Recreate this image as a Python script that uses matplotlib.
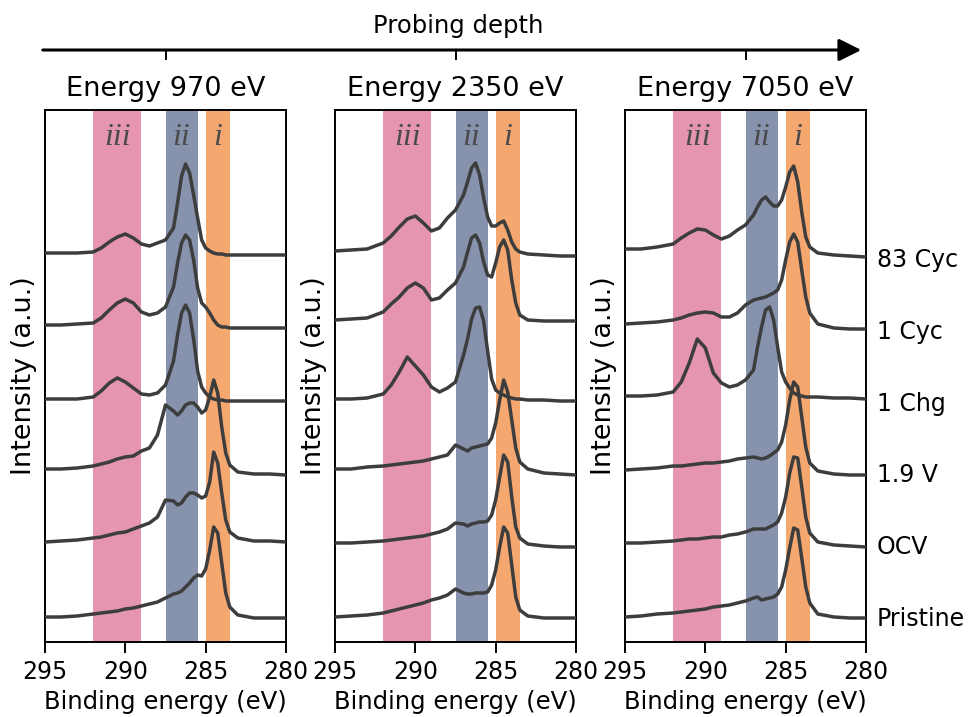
import numpy as np
import matplotlib
matplotlib.use("Agg")
import matplotlib.pyplot as plt
from matplotlib.lines import Line2D
from matplotlib.patches import FancyArrowPatch

# ---------------- data ----------------
binding_energy = [295, 294, 293, 292, 291.5, 291, 290.5, 290, 289.5, 289, 288.5, 288,
                  287.5, 287, 286.75, 286.5, 286.25, 286, 285.75, 285.5, 285.25, 285,
                  284.75, 284.5, 284.25, 284, 283.75, 283.5, 283, 282, 281, 280]

samples = ["Pristine", "OCV", "1.9 V", "1 Chg", "1 Cyc", "83 Cyc"]
offsets = [0, 72, 144, 216, 288, 360]
panel_titles = ["Energy 970 eV", "Energy 2350 eV", "Energy 7050 eV"]

region_names = ["iii", "ii", "i"]
region_bounds = [(292.0, 289.0), (287.5, 285.5), (285.0, 283.5)]
region_colors = ["#E596AE", "#8792AD", "#F4A870"]

# 970 eV
e970_pristine = [0, 0, 1, 3, 4, 5, 6, 8, 9, 11, 13, 15, 19, 23, 24, 26, 30, 34, 39, 42, 41, 48, 67, 90, 84, 54, 24, 10, 2, -1, -1, -1]
e970_ocv      = [3, 4, 5, 7, 8, 10, 12, 13, 16, 19, 22, 28, 45, 44, 40, 42, 48, 52, 52, 50, 47, 49, 63, 93, 82, 52, 25, 13, 7, 4, 4, 3]
e970_19v      = [4, 4, 5, 7, 9, 11, 14, 16, 17, 22, 25, 38, 68, 62, 58, 62, 68, 70, 70, 66, 60, 63, 76, 93, 80, 46, 20, 8, 1, -1, -1, -2]
e970_1chg     = [2, 2, 2, 4, 10, 18, 23, 19, 13, 7, 6, 8, 16, 40, 66, 88, 96, 88, 62, 30, 14, 8, 4, 2, 1, 1, 0, 0, 0, 0, 0, 0]
e970_1cyc     = [4, 4, 5, 6, 11, 19, 26, 30, 26, 17, 14, 16, 22, 42, 66, 86, 94, 89, 69, 41, 26, 22, 16, 9, 4, 2, 2, 1, 1, 1, 1, 1]
e970_83cyc    = [4, 4, 4, 5, 9, 15, 20, 23, 19, 13, 11, 14, 17, 29, 54, 81, 93, 84, 62, 39, 17, 9, 6, 4, 3, 3, 2, 2, 2, 2, 2, 2]

# 2350 eV
e2350_pristine = [0, 1, 2, 4, 6, 8, 10, 12, 14, 17, 19, 22, 28, 24, 23, 23, 24, 24, 24, 25, 32, 47, 70, 90, 84, 52, 20, 7, 1, -1, -1, -1]
e2350_ocv      = [2, 2, 3, 4, 5, 6, 7, 8, 9, 11, 13, 16, 22, 21, 19, 21, 22, 23, 23, 24, 30, 45, 68, 90, 83, 48, 18, 7, 1, -1, -2, -2]
e2350_19v      = [4, 4, 6, 7, 8, 9, 10, 11, 12, 14, 16, 18, 28, 24, 22, 25, 26, 27, 28, 29, 35, 50, 73, 93, 81, 53, 25, 11, 4, 0, -1, -2]
e2350_1chg     = [2, 2, 3, 7, 16, 29, 44, 35, 26, 14, 9, 13, 19, 46, 62, 82, 93, 94, 80, 50, 22, 11, 8, 6, 4, 3, 2, 2, 1, 1, 0, 0]
e2350_1cyc     = [9, 10, 11, 17, 25, 32, 41, 46, 41, 29, 31, 39, 46, 62, 77, 91, 94, 86, 67, 54, 52, 66, 82, 89, 79, 49, 26, 14, 9, 8, 8, 8]
e2350_83cyc    = [6, 7, 8, 14, 21, 30, 38, 41, 34, 26, 29, 39, 47, 62, 75, 89, 94, 82, 59, 40, 31, 31, 34, 36, 27, 15, 8, 5, 3, 2, 1, 1]

# 7050 eV
e7050_pristine = [0, 1, 3, 4, 5, 6, 7, 8, 10, 11, 12, 14, 16, 19, 20, 17, 18, 19, 20, 23, 30, 47, 69, 89, 87, 59, 30, 14, 3, 0, -1, -1]
e7050_ocv      = [2, 2, 3, 4, 5, 6, 6, 7, 8, 8, 10, 11, 13, 16, 16, 16, 16, 18, 20, 23, 32, 48, 72, 88, 87, 58, 28, 12, 3, 0, -1, -2]
e7050_19v      = [3, 4, 5, 7, 7, 8, 9, 10, 10, 11, 12, 14, 15, 16, 15, 14, 15, 17, 20, 23, 31, 48, 73, 91, 86, 56, 26, 10, 2, -1, -2, -2]
e7050_1chg     = [5, 5, 6, 9, 19, 38, 62, 53, 28, 18, 14, 16, 21, 31, 54, 74, 91, 94, 81, 54, 29, 19, 13, 8, 6, 5, 4, 4, 4, 3, 3, 2]
e7050_1cyc     = [5, 6, 7, 9, 11, 14, 16, 17, 16, 12, 12, 16, 24, 29, 30, 31, 32, 34, 36, 39, 49, 69, 87, 95, 87, 59, 32, 16, 5, 1, 0, 0]
e7050_83cyc    = [8, 8, 10, 13, 19, 24, 28, 27, 22, 18, 21, 27, 32, 42, 50, 57, 60, 55, 51, 51, 57, 70, 85, 91, 75, 45, 20, 10, 4, 2, 1, 0]

panel_spectra = [
    [e970_pristine, e970_ocv, e970_19v, e970_1chg, e970_1cyc, e970_83cyc],
    [e2350_pristine, e2350_ocv, e2350_19v, e2350_1chg, e2350_1cyc, e2350_83cyc],
    [e7050_pristine, e7050_ocv, e7050_19v, e7050_1chg, e7050_1cyc, e7050_83cyc],
]

# ---------------- figure ----------------
W, H = 968, 717
fig = plt.figure(figsize=(W / 100, H / 100), dpi=100)

ax_left_px = [45, 335, 625]
ax_w_px = 241
ax_top_px, ax_bot_px = 110, 642

line_color = "#3d3d3d"
x = np.array(binding_energy)

for p in range(3):
    ax = fig.add_axes([ax_left_px[p] / W, 1 - ax_bot_px / H,
                       ax_w_px / W, (ax_bot_px - ax_top_px) / H])
    for (hi, lo), col in zip(region_bounds, region_colors):
        ax.axvspan(hi, lo, color=col, lw=0, zorder=0)
    for name, (hi, lo) in zip(region_names, region_bounds):
        ax.text((hi + lo) / 2, 472, name, ha="center", va="baseline",
                family="Liberation Serif", style="italic", fontsize=23,
                color="#4a4a4a", zorder=1)
    for spec, off in zip(panel_spectra[p], offsets):
        ax.plot(x, np.array(spec) + off, color=line_color, lw=2.5, zorder=3,
                solid_joinstyle="round", solid_capstyle="round")
    ax.set_xlim(295, 280)
    ax.set_ylim(-25, 507)
    ax.set_xticks([295, 290, 285, 280])
    ax.tick_params(axis="x", labelsize=17, length=8, width=1.4, pad=5)
    ax.set_xlabel("Binding energy (eV)", fontsize=17.5, labelpad=4)
    ax.set_ylabel("Intensity (a.u.)", fontsize=19.5, labelpad=6)
    ax.set_title(panel_titles[p], fontsize=19.5, pad=10)
    for s in ax.spines.values():
        s.set_linewidth(1.4)
    if p < 2:
        ax.set_yticks([])
    else:
        ax.yaxis.tick_right()
        ax.set_yticks(offsets)
        ax.set_yticklabels(samples)
        ax.tick_params(axis="y", labelsize=17, length=0, pad=8)

# top "probing depth" arrow
y_arrow = 1 - 50 / H
fig.text(458 / W, 1 - 26 / H, "Probing depth", ha="center", va="center", fontsize=17.5)
fig.add_artist(FancyArrowPatch(
    (40 / W, y_arrow), (864 / W, y_arrow), transform=fig.transFigure,
    arrowstyle="-|>", mutation_scale=34, lw=2.2, color="black"))
for cx in [165.5, 455.5, 745.5]:
    fig.add_artist(Line2D([cx / W, cx / W], [y_arrow, y_arrow - 9 / H],
                          transform=fig.transFigure, color="black", lw=1.4))

fig.savefig("out.png", dpi=100)
